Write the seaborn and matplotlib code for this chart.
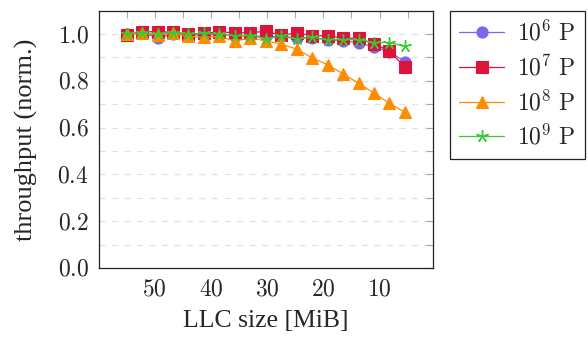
import numpy as np
import pandas as pd
import matplotlib
matplotlib.use("Agg")
import matplotlib.pyplot as plt
import seaborn as sns
from matplotlib.ticker import FixedLocator, FuncFormatter

# ---- data ----
llc_size = [55.0, 52.25, 49.5, 46.75, 44.0, 41.25, 38.5, 35.75, 33.0, 30.25,
            27.5, 24.75, 22.0, 19.25, 16.5, 13.75, 11.0, 8.25, 5.5]
p1e6 = [1.000, 1.005, 0.985, 1.000, 0.997, 0.995, 1.000, 0.995, 0.993, 0.990,
        0.990, 0.985, 0.985, 0.975, 0.972, 0.962, 0.945, 0.925, 0.882]
p1e7 = [0.997, 1.010, 1.010, 1.008, 1.000, 1.003, 1.010, 1.005, 1.006, 1.012,
        0.995, 1.005, 0.993, 0.993, 0.982, 0.982, 0.957, 0.929, 0.858]
p1e8 = [1.000, 1.003, 0.997, 1.003, 0.990, 0.986, 0.990, 0.970, 0.983, 0.971,
        0.957, 0.936, 0.898, 0.869, 0.830, 0.790, 0.748, 0.704, 0.666]
p1e9 = [1.000, 1.003, 1.000, 1.006, 1.000, 1.003, 1.000, 0.993, 0.993, 0.981,
        0.990, 0.979, 0.986, 0.976, 0.976, 0.976, 0.964, 0.964, 0.947]
series_labels = [r"$10^{6}\ \mathrm{P}$", r"$10^{7}\ \mathrm{P}$",
                 r"$10^{8}\ \mathrm{P}$", r"$10^{9}\ \mathrm{P}$"]
x_tick_labels = [50, 40, 30, 20, 10]
y_tick_labels = [0.0, 0.2, 0.4, 0.6, 0.8, 1.0]

sns.set_theme(style="white")
plt.rcParams["font.family"] = ["Liberation Serif", "DejaVu Serif"]
plt.rcParams["mathtext.fontset"] = "cm"

fig = plt.figure(figsize=(5.88, 3.37), dpi=100)
ax = fig.add_axes([98.5 / 588, 69 / 337, (433 - 98.5) / 588, (268 - 10.7) / 337])

colors = ["#7B68EE", "#DC143C", "#FF8C00", "#32CD32"]
markers = ["o", "s", "^", (5, 2, 0)]
msizes = [8, 8.5, 8.5, 9]
for vals, lab, c, m, ms in zip([p1e6, p1e7, p1e8, p1e9], series_labels, colors, markers, msizes):
    df = pd.DataFrame({"x": llc_size, "y": vals})
    sns.lineplot(data=df, x="x", y="y", ax=ax, color=c, marker=m, markersize=ms,
                 markeredgecolor=c, markerfacecolor=c, markeredgewidth=0.8 if m != markers[3] else 1.0,
                 linewidth=0.9, label=lab, sort=False)

ax.set_xlim(60, 0.5)
ax.set_ylim(0, 1.1)

ax.xaxis.set_major_locator(FixedLocator(x_tick_labels))
ax.xaxis.set_minor_locator(FixedLocator([55, 45, 35, 25, 15, 5]))
ax.xaxis.set_major_formatter(FuncFormatter(lambda v, p: rf"${int(round(v))}$"))
ax.yaxis.set_major_locator(FixedLocator(y_tick_labels))
ax.yaxis.set_minor_locator(FixedLocator([0.1, 0.3, 0.5, 0.7, 0.9]))
ax.yaxis.set_major_formatter(FuncFormatter(lambda v, p: rf"${v:.1f}$"))

ax.tick_params(which="both", direction="in", top=True, right=True, length=5,
               width=0.8, color="#aaaaaa", labelsize=17)
ax.tick_params(axis="x", pad=8)
ax.tick_params(axis="y", pad=7)

for yv in [0.1, 0.2, 0.3, 0.4, 0.5, 0.6, 0.7, 0.8, 0.9, 1.0]:
    ax.axhline(yv, color="#e2e2e2", linewidth=0.9, linestyle=(0, (5, 5)), zorder=0)

for s in ax.spines.values():
    s.set_color("#222222")
    s.set_linewidth(0.9)

ax.set_xlabel("LLC size [MiB]", fontsize=18.5, labelpad=7)
ax.set_ylabel("throughput (norm.)", fontsize=19, labelpad=14)

leg = ax.legend(loc="upper left", bbox_to_anchor=(450 / 588, 1 - 11 / 337),
                bbox_transform=fig.transFigure, frameon=True, fancybox=False,
                framealpha=1, edgecolor="#222222", fontsize=17, handlelength=1.9,
                handletextpad=0.55, borderpad=0.4, borderaxespad=0, labelspacing=0.4)
leg.get_frame().set_linewidth(0.9)

fig.savefig("out.png", dpi=100)
